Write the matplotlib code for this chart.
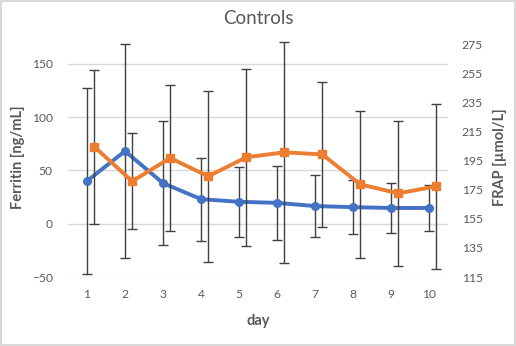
import matplotlib
matplotlib.use('Agg')
import matplotlib.pyplot as plt
import numpy as np

days = [1, 2, 3, 4, 5, 6, 7, 8, 9, 10]

ferritin = [40, 68, 38, 23, 20.5, 19.5, 16.5, 15.5, 14.7, 14.7]
ferritin_err = [87.5, 100, 58, 39, 33, 35, 29, 25, 23, 21.5]

frap = [204.6, 180.8, 196.8, 184.2, 197.3, 200.7, 199.3, 178.7, 172.5, 177.3]
frap_err = [53, 33, 50, 59, 61, 76, 50, 50.5, 50, 56.6]

blue = '#4472C4'
orange = '#ED7D31'
grey_text = '#595959'
grid_col = '#D9D9D9'
err_col = '#404040'

plt.rcParams['font.family'] = ['Lato', 'DejaVu Sans']

fig = plt.figure(figsize=(5.16, 3.46), dpi=100)
fig.patch.set_edgecolor('#D9D9D9')
fig.patch.set_linewidth(1.5)
ax = fig.add_axes([68 / 516, 1 - 277 / 346, 380 / 516, 240 / 346])
ax2 = ax.twinx()

# ferritin on the left axis
ax.errorbar(days, ferritin, yerr=ferritin_err, color=blue, lw=2.8,
            marker='o', ms=5.5, ecolor=err_col, elinewidth=1, capsize=3.5,
            capthick=1, zorder=3)

# frap on the right axis, shifted slightly to the right
frap_x = [d + 0.19 for d in days]
ax2.errorbar(frap_x, frap, yerr=frap_err, color=orange, lw=2.8,
             marker='s', ms=5.5, ecolor=err_col, elinewidth=1, capsize=3.5,
             capthick=1, zorder=3)

ax.set_xlim(0.5, 10.5)
ax.set_ylim(-50, 175)
ax.set_yticks([-50, 0, 50, 100, 150])
ax2.set_ylim(115, 280)
ax2.set_yticks([115, 135, 155, 175, 195, 215, 235, 255, 275])
ax.set_xticks(days)

ax.grid(axis='y', color=grid_col, lw=1)
ax.set_axisbelow(True)
for a in (ax, ax2):
    for s in a.spines.values():
        s.set_visible(False)
    a.tick_params(length=0, labelsize=8.7, colors=grey_text)
ax.tick_params(axis='x', pad=9)
ax.tick_params(axis='y', pad=11)
ax2.tick_params(axis='y', pad=10)

ax.set_title('Controls', color=grey_text, fontsize=13.5, pad=9)
ax.set_xlabel('day', color=grey_text, fontsize=10.5, fontweight='bold', labelpad=10)
ax.set_ylabel('Ferritin [ng/mL]', color=grey_text, fontsize=10.5, fontweight='bold', labelpad=5)
ax2.set_ylabel('FRAP [µmol/L]', color=grey_text, fontsize=10.5, fontweight='bold', labelpad=7)

fig.savefig('out.png', dpi=100, edgecolor=fig.get_edgecolor())
